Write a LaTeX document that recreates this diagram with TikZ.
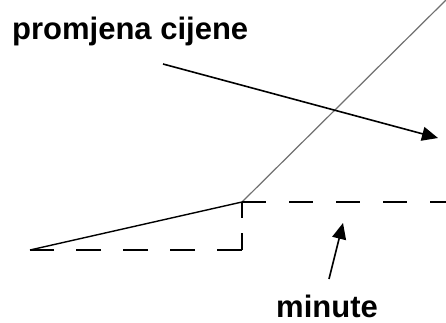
\documentclass[tikz,border=0pt]{standalone}
\usepackage{fontspec}
\setmainfont{Liberation Sans}
\usepackage{tikz}
\usetikzlibrary{arrows.meta}
\definecolor{PCLine}{HTML}{000000}
\definecolor{PCGray}{HTML}{707070}

\begin{document}
\begin{tikzpicture}[x=1pt,y=1pt]
\useasboundingbox (0,0) rectangle (446,322);
\tikzset{lab/.style={inner sep=0pt,anchor=base west,font=\fontsize{31}{36}\selectfont\bfseries},
  pointer/.style={PCLine,line width=1.6pt,-{Triangle[length=16pt,width=14pt]}}}
% points of the curve
\coordinate (start) at (30,72);
\coordinate (kink) at (242,120);
\coordinate (corner) at (242,72);
\coordinate (top) at (446,322);
\coordinate (right) at (446,120);
% curve and helper lines
\draw[PCGray,line width=1.2pt] (kink)--(top);
\draw[PCLine,line width=1.4pt] (start)--(kink);
\draw[PCLine,line width=1.2pt,dash pattern=on 24pt off 23pt] (kink)--(right);
\draw[PCLine,line width=1.2pt,dash pattern=on 16pt off 15pt on 20pt] (kink)--(corner);
\draw[PCLine,line width=1.2pt,dash pattern=on 25pt off 22pt] (corner)--(start);
% labels
\node[lab] (price) at (12,283) {promjena cijene};
\node[lab] (mins) at (276,5) {minute};
\coordinate (priceTail) at (163,258);
\coordinate (priceTip) at (438,184);
\coordinate (minsTail) at (329,43);
\coordinate (minsTip) at (343,99);
\draw[pointer] (priceTail)--(priceTip);
\draw[pointer] (minsTail)--(minsTip);
\end{tikzpicture}
\end{document}
